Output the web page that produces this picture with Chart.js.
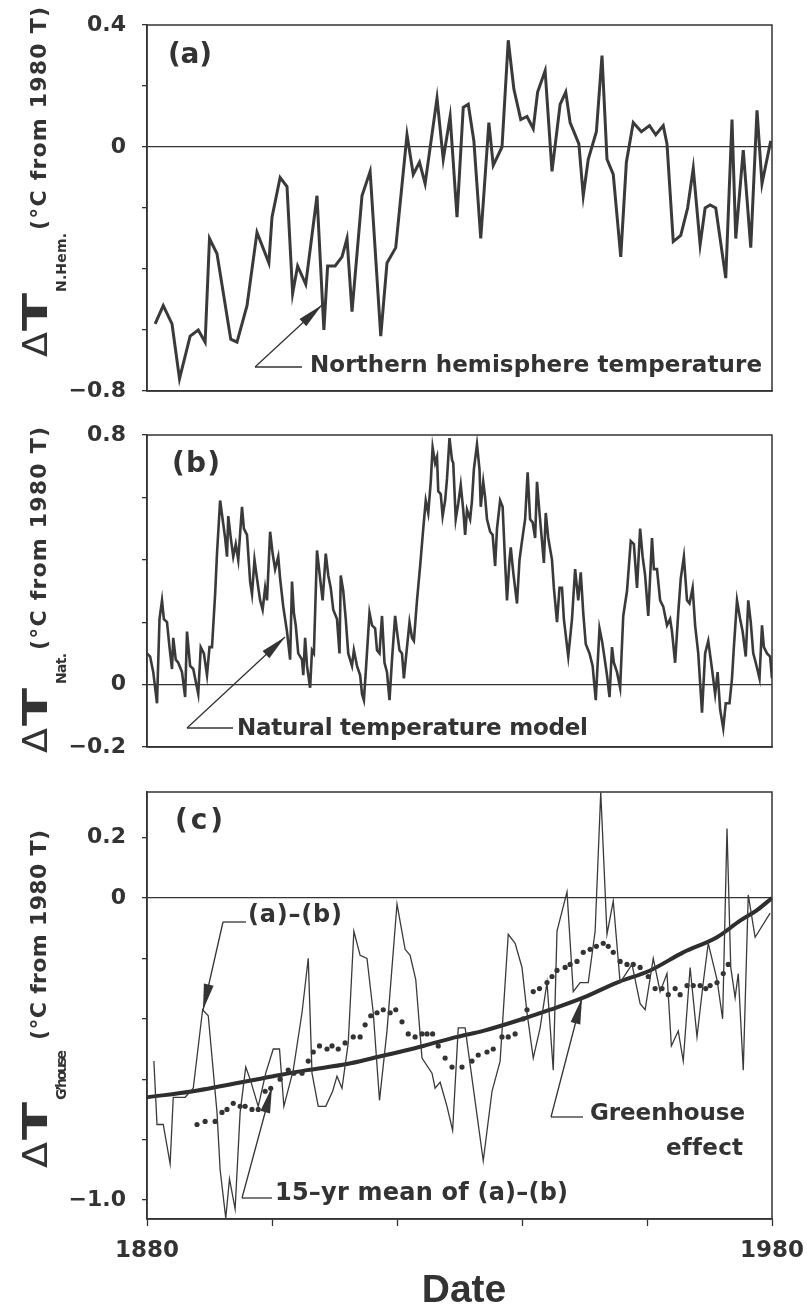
<!DOCTYPE html>
<html><head><meta charset="utf-8">
<script src="https://cdn.jsdelivr.net/npm/chart.js@4.4.0/dist/chart.umd.min.js"></script>
<style>
html,body{margin:0;padding:0;background:#fff;}
body{width:807px;height:1312px;position:relative;overflow:hidden;}
canvas{position:absolute;left:0;}
</style></head><body>
<canvas id="ca" width="807" height="446" style="top:-15px"></canvas>
<canvas id="cb" width="807" height="392" style="top:395px"></canvas>
<canvas id="cc" width="860" height="560" style="top:752px"></canvas>
<script>
// ---------- DATA ----------
// (a) Northern hemisphere temperature
const yearsA = [1881.3,1882.6,1884.0,1885.2,1886.9,1888.2,1889.3,1890.0,1891.2,1893.4,
1894.4,1896.0,1897.6,1899.5,1900.0,1901.3,1902.4,1903.3,1904.1,1905.4,
1907.2,1908.3,1908.9,1910.1,1911.2,1912.0,1912.8,1914.4,1915.7,1917.4,
1918.4,1919.8,1921.6,1922.6,1923.6,1924.5,1926.4,1927.4,1928.5,1929.6,
1930.6,1931.4,1932.3,1933.4,1934.7,1935.4,1936.8,1937.8,1938.7,1939.8,
1940.8,1941.8,1942.5,1943.7,1944.8,1946.1,1947.0,1947.7,1949.1,1949.8,
1950.6,1951.9,1952.8,1953.6,1954.6,1955.8,1956.7,1957.8,1959.1,1960.4,
1961.4,1962.6,1963.2,1964.2,1965.4,1966.5,1967.4,1968.5,1969.3,1970.1,
1971.0,1972.6,1973.6,1974.2,1975.4,1976.6,1977.6,1978.4,1979.8];
const valuesA = [-0.58,-0.52,-0.58,-0.76,-0.62,-0.60,-0.64,-0.30,-0.35,-0.63,
-0.64,-0.52,-0.28,-0.38,-0.23,-0.10,-0.13,-0.48,-0.39,-0.45,
-0.16,-0.60,-0.39,-0.39,-0.36,-0.30,-0.54,-0.16,-0.08,-0.62,
-0.38,-0.33,0.04,-0.09,-0.05,-0.12,0.16,-0.04,0.10,-0.23,
0.13,0.14,0.02,-0.30,0.08,-0.06,0.00,0.35,0.19,0.09,
0.10,0.06,0.18,0.25,-0.08,0.14,0.18,0.08,0.01,-0.16,
-0.04,0.05,0.30,-0.04,-0.09,-0.36,-0.05,0.08,0.05,0.07,
0.04,0.07,0.01,-0.31,-0.29,-0.20,-0.07,-0.32,-0.20,-0.19,
-0.20,-0.43,0.09,-0.30,-0.01,-0.33,0.12,-0.12,0.02];

// (b) Natural temperature model
const yearsB = [1880.0,1880.5,1881.0,1881.6,1882.0,1882.4,1882.7,1883.2,1883.6,1884.0,
1884.2,1884.6,1885.0,1885.6,1886.1,1886.4,1886.9,1887.4,1887.8,1888.2,
1888.6,1889.1,1889.6,1890.0,1890.4,1890.9,1891.2,1891.7,1892.1,1892.5,
1892.8,1893.0,1893.4,1893.8,1894.2,1894.6,1895.2,1895.5,1896.0,1896.5,
1896.8,1897.2,1897.6,1898.1,1898.5,1898.9,1899.2,1899.7,1900.1,1900.5,
1901.0,1901.3,1901.8,1902.4,1902.9,1903.2,1903.5,1903.8,1904.2,1904.8,
1905.0,1905.3,1905.6,1906.1,1906.4,1906.7,1907.2,1907.7,1908.1,1908.6,
1909.0,1909.4,1909.8,1910.4,1910.8,1911.0,1911.4,1911.8,1912.2,1912.8,
1913.1,1913.6,1914.1,1914.4,1914.7,1915.0,1915.6,1916.0,1916.5,1916.8,
1917.2,1917.6,1918.0,1918.4,1918.8,1919.2,1919.7,1920.0,1920.4,1920.8,
1921.1,1921.6,1922.0,1922.4,1922.7,1923.2,1923.7,1924.2,1924.6,1925.0,
1925.4,1925.7,1926.1,1926.4,1926.6,1927.0,1927.3,1927.7,1928.0,1928.4,
1928.8,1929.0,1929.4,1929.8,1930.2,1930.6,1930.9,1931.2,1931.7,1932.0,
1932.3,1932.8,1933.2,1933.4,1933.8,1934.1,1934.4,1934.9,1935.3,1935.7,
1936.0,1936.5,1936.9,1937.3,1937.6,1938.0,1938.2,1938.6,1939.2,1939.6,
1940.0,1940.5,1940.9,1941.3,1941.7,1942.1,1942.4,1942.8,1943.2,1943.5,
1943.8,1944.2,1944.8,1945.1,1945.6,1946.0,1946.4,1946.7,1947.4,1948.0,
1948.5,1949.0,1949.4,1949.8,1950.2,1950.8,1951.3,1951.8,1952.4,1952.8,
1953.1,1953.6,1954.0,1954.4,1954.7,1955.2,1955.7,1956.2,1956.8,1957.4,
1957.9,1958.4,1958.9,1959.3,1959.7,1960.2,1960.8,1961.1,1961.6,1962.1,
1962.6,1963.2,1963.7,1964.0,1964.5,1965.0,1965.4,1965.9,1966.4,1966.8,
1967.3,1967.7,1968.2,1968.8,1969.3,1969.8,1970.4,1970.9,1971.3,1971.7,
1972.2,1972.6,1973.2,1973.6,1973.9,1974.4,1974.9,1975.3,1975.8,1976.2,
1976.6,1977.0,1977.4,1978.0,1978.4,1978.7,1979.2,1979.7,1980.0];
const valuesB = [0.10,0.09,0.04,-0.06,0.21,0.27,0.21,0.20,0.12,0.05,
0.15,0.08,0.07,0.04,-0.04,0.17,0.06,0.05,0.01,-0.03,
0.12,0.10,0.03,0.12,0.12,0.29,0.42,0.59,0.53,0.47,
0.41,0.54,0.47,0.41,0.45,0.40,0.57,0.50,0.48,0.33,
0.29,0.40,0.34,0.27,0.24,0.31,0.27,0.49,0.42,0.37,
0.41,0.34,0.25,0.17,0.08,0.33,0.23,0.19,0.10,0.08,
0.03,0.15,0.06,-0.01,0.11,0.10,0.43,0.34,0.27,0.42,
0.35,0.31,0.24,0.21,0.10,0.35,0.30,0.21,0.10,0.06,
0.11,0.06,0.03,-0.03,-0.05,0.04,0.23,0.19,0.18,0.11,
0.10,0.22,0.07,0.04,-0.05,0.08,0.22,0.17,0.11,0.10,
0.02,0.12,0.20,0.15,0.14,0.27,0.38,0.50,0.59,0.55,
0.65,0.76,0.71,0.73,0.62,0.61,0.54,0.59,0.66,0.79,
0.72,0.71,0.53,0.58,0.64,0.56,0.48,0.56,0.53,0.59,
0.69,0.77,0.69,0.57,0.65,0.60,0.53,0.49,0.48,0.38,
0.50,0.59,0.57,0.39,0.27,0.40,0.44,0.36,0.26,0.40,
0.46,0.53,0.68,0.53,0.52,0.47,0.65,0.55,0.46,0.39,
0.55,0.47,0.40,0.31,0.20,0.31,0.31,0.21,0.09,0.21,
0.37,0.27,0.36,0.23,0.13,0.10,0.06,-0.05,0.18,0.14,
0.10,0.03,-0.04,0.12,0.07,0.04,-0.01,0.22,0.30,0.46,
0.45,0.31,0.50,0.41,0.35,0.22,0.47,0.37,0.37,0.27,
0.25,0.19,0.21,0.17,0.07,0.23,0.34,0.41,0.27,0.26,
0.31,0.19,0.10,-0.09,0.10,0.14,0.05,-0.03,0.04,-0.08,
-0.14,-0.06,-0.06,0.02,0.12,0.27,0.21,0.17,0.09,0.27,
0.20,0.10,0.07,0.02,0.19,0.12,0.10,0.09,0.02];

// (c) (a)-(b)
const yearsDiff = [1881.1,1881.6,1882.6,1883.7,1884.2,1886.1,1887.4,1888.9,1889.8,1891.2,
1891.7,1892.6,1893.2,1894.1,1894.9,1895.8,1896.5,1897.8,1899.0,1900.2,
1901.2,1901.9,1903.4,1904.8,1905.8,1906.4,1907.4,1908.6,1909.7,1910.4,
1911.2,1912.2,1913.1,1914.1,1915.2,1916.2,1917.2,1918.4,1920.0,1921.3,
1922.1,1923.0,1924.0,1925.6,1926.1,1926.9,1928.0,1928.9,1929.8,1930.9,
1933.8,1935.2,1936.5,1937.8,1938.9,1940.0,1940.8,1941.8,1942.9,1944.0,
1945.0,1945.6,1947.2,1948.2,1949.3,1950.6,1951.7,1952.6,1953.6,1954.6,
1955.7,1957.6,1958.9,1959.7,1961.0,1962.1,1963.2,1963.9,1965.0,1965.8,
1966.9,1968.0,1969.0,1969.8,1971.2,1972.1,1972.8,1973.4,1974.1,1974.6,
1975.4,1976.2,1977.3,1979.7];
const valuesDiff = [-0.54,-0.75,-0.75,-0.88,-0.66,-0.66,-0.63,-0.37,-0.39,-0.71,
-0.90,-1.06,-0.93,-1.03,-0.71,-0.56,-0.60,-0.69,-0.58,-0.50,
-0.50,-0.69,-0.57,-0.38,-0.20,-0.58,-0.69,-0.69,-0.64,-0.59,
-0.63,-0.48,-0.11,-0.19,-0.20,-0.38,-0.67,-0.44,-0.02,-0.17,
-0.19,-0.27,-0.53,-0.58,-0.63,-0.61,-0.69,-0.77,-0.43,-0.43,
-0.87,-0.64,-0.54,-0.12,-0.15,-0.23,-0.38,-0.53,-0.43,-0.28,
-0.57,-0.11,0.02,-0.31,-0.28,-0.28,-0.11,0.35,-0.12,-0.01,
-0.28,-0.22,-0.35,-0.37,-0.20,-0.31,-0.25,-0.49,-0.44,-0.54,
-0.23,-0.46,-0.28,-0.15,-0.27,-0.40,0.23,-0.23,-0.33,-0.25,
-0.57,0.01,-0.13,-0.05];

// (c) 15-yr mean of (a)-(b)
const yearsMean = [1888.0,1889.3,1890.9,1892.0,1892.8,1893.8,1894.9,1895.7,1896.8,1897.8,
1898.9,1899.8,1901.3,1902.6,1903.5,1904.8,1905.8,1906.6,1907.6,1908.8,
1909.6,1910.6,1911.7,1913.0,1914.1,1914.9,1915.8,1916.8,1917.8,1918.9,
1919.8,1920.8,1921.8,1922.9,1924.0,1924.8,1925.7,1926.6,1927.7,1928.8,
1930.4,1932.0,1933.0,1934.4,1935.4,1936.8,1937.8,1938.9,1940.2,1940.8,
1941.8,1942.8,1944.0,1944.8,1945.6,1946.9,1947.7,1948.8,1949.8,1950.9,
1951.9,1953.0,1953.8,1954.6,1955.7,1956.8,1957.8,1958.9,1960.2,1961.3,
1962.4,1963.4,1964.5,1965.3,1966.4,1967.4,1968.5,1969.4,1970.1,1971.2,
1972.2,1973.0];
const valuesMean = [-0.75,-0.74,-0.74,-0.71,-0.70,-0.68,-0.69,-0.69,-0.70,-0.70,
-0.64,-0.63,-0.60,-0.57,-0.58,-0.58,-0.54,-0.51,-0.49,-0.50,
-0.49,-0.50,-0.48,-0.46,-0.46,-0.42,-0.39,-0.38,-0.37,-0.38,
-0.37,-0.41,-0.45,-0.46,-0.45,-0.45,-0.45,-0.49,-0.53,-0.56,
-0.56,-0.54,-0.52,-0.51,-0.50,-0.46,-0.46,-0.45,-0.40,-0.37,
-0.31,-0.30,-0.28,-0.26,-0.24,-0.23,-0.22,-0.21,-0.18,-0.17,
-0.16,-0.15,-0.16,-0.18,-0.21,-0.22,-0.22,-0.23,-0.26,-0.30,
-0.30,-0.32,-0.30,-0.32,-0.29,-0.29,-0.29,-0.30,-0.29,-0.28,
-0.25,-0.22];

// (c) Greenhouse effect
const yearsGH = [1880.0,1887.4,1900.2,1905.6,1912.0,1916.2,1924.2,1929.6,1933.8,1940.2,
1944.5,1949.8,1955.2,1960.5,1965.8,1971.2,1974.9,1977.6,1980.0];
const valuesGH = [-0.66,-0.64,-0.59,-0.57,-0.55,-0.53,-0.49,-0.46,-0.44,-0.40,
-0.37,-0.33,-0.28,-0.24,-0.18,-0.13,-0.075,-0.04,0.00];

// ticks
const xTicks = [1880,1900,1920,1940,1960,1980];
const xLabelYears = [1880,1980];
const yTicksA = [-0.8,-0.6,-0.4,-0.2,0,0.2,0.4];
const yLabelValsA = [0.4,0,-0.8];
const yLabelTextA = ['0.4','0','\u22120.8'];
const yTicksB = [-0.2,0,0.2,0.4,0.6,0.8];
const yLabelValsB = [0.8,0,-0.2];
const yLabelTextB = ['0.8','0','\u22120.2'];
const yTicksC = [-1.0,-0.8,-0.6,-0.4,-0.2,0,0.2];
const yLabelValsC = [0.2,0,-1.0];
const yLabelTextC = ['0.2','0','\u22121.0'];

// ---------- STYLE / HELPERS ----------
const INK = '#333333';
const FONT = '"DejaVu Sans"';

function pts(xs, ys){ return xs.map((x,i)=>({x:x, y:ys[i]})); }

function yScale(min, max, ticks, lv, lt){
  return {
    type:'linear', min:min, max:max, position:'left',
    afterBuildTicks: s => { s.ticks = ticks.map(v=>({value:v})); },
    afterFit: s => { s.width = 147; },
    ticks:{ autoSkip:false, padding:16, color:INK,
      font:{family:FONT, size:22, weight:'bold'},
      callback: v => { const i = lv.indexOf(v); return i>=0 ? lt[i] : ''; } },
    grid:{ drawOnChartArea:true,
      color: c => (c.tick && c.tick.value===0) ? INK : 'rgba(0,0,0,0)',
      lineWidth:1.3, tickColor:INK, tickLength:5, tickWidth:1.3 },
    border:{display:true, color:INK, width:1.5}
  };
}
function xScale(show, h){
  return {
    type:'linear', min:1880, max:1980,
    afterBuildTicks: s => { s.ticks = xTicks.map(v=>({value:v})); },
    afterFit: s => { s.height = h; },
    ticks:{ display:show, autoSkip:false, maxRotation:0, padding:11, color:INK,
      font:{family:FONT, size:23, weight:'bold'},
      callback: v => xLabelYears.includes(v) ? String(v) : '' },
    grid:{ drawOnChartArea:false, drawTicks:show, tickLength:7, tickColor:INK, tickWidth:1.3 },
    border:{display:true, color:INK, width:1.5}
  };
}
const boxPlugin = { id:'box', afterDatasetsDraw(chart){
  const ctx = chart.ctx, a = chart.chartArea;
  ctx.save(); ctx.strokeStyle = INK; ctx.lineWidth = 1.5;
  ctx.strokeRect(a.left, a.top, a.right-a.left, a.bottom-a.top); ctx.restore(); } };

function spacedText(ctx, text, font, x0, x1, base){
  ctx.font = font; ctx.textBaseline = 'alphabetic'; ctx.textAlign = 'left';
  const ch = Array.from(text); const ws = ch.map(c=>ctx.measureText(c).width);
  const tot = ws.reduce((a,b)=>a+b,0);
  const gap = ch.length>1 ? ((x1-x0)-tot)/(ch.length-1) : 0;
  let x = x0; ch.forEach((c,i)=>{ ctx.fillText(c, x, base); x += ws[i]+gap; });
}
function spacedRot(ctx, text, font, bx, y0, y1){
  ctx.save(); ctx.translate(bx, y0); ctx.rotate(-Math.PI/2);
  spacedText(ctx, text, font, 0, y0-y1, 0); ctx.restore();
}
function scaledRot(ctx, text, font, bx, y0, y1){
  ctx.save(); ctx.translate(bx, y0); ctx.rotate(-Math.PI/2);
  ctx.font = font; ctx.textBaseline='alphabetic'; ctx.textAlign='left';
  const w = ctx.measureText(text).width; ctx.scale((y0-y1)/w, 1);
  ctx.fillText(text, 0, 0); ctx.restore();
}
function yTitle(ctx, d, t, sub, s, p){
  scaledRot(ctx, '\u0394', '34px '+FONT, 47, d[0], d[1]);
  scaledRot(ctx, 'T', 'bold 34px '+FONT, 47, t[0], t[1]);
  spacedRot(ctx, sub, 'bold 14px '+FONT, 66, s[0], s[1]);
  spacedRot(ctx, '(\u00B0C from 1980 T)', 'bold 22px '+FONT, 46, p[0], p[1]);
}
function arrow(ctx, x0, y0, x1, y1){
  ctx.beginPath(); ctx.moveTo(x0,y0); ctx.lineTo(x1,y1); ctx.stroke();
  const a = Math.atan2(y1-y0, x1-x0), L = 26, W = 5;
  const bx = x1-L*Math.cos(a), by = y1-L*Math.sin(a);
  const px = -Math.sin(a)*W, py = Math.cos(a)*W;
  ctx.beginPath(); ctx.moveTo(x1,y1); ctx.lineTo(bx+px,by+py); ctx.lineTo(bx-px,by-py); ctx.closePath(); ctx.fill();
}
function line(ctx, x0, y0, x1, y1){ ctx.beginPath(); ctx.moveTo(x0,y0); ctx.lineTo(x1,y1); ctx.stroke(); }
function notes(offset, fn){ return { id:'notes', afterDraw(chart){
  const ctx = chart.ctx; ctx.save(); ctx.translate(0,-offset);
  ctx.fillStyle = INK; ctx.strokeStyle = INK; ctx.lineWidth = 1.3; fn(ctx); ctx.restore(); } }; }

const common = { responsive:false, animation:false, events:[],
  plugins:{ legend:{display:false}, tooltip:{enabled:false} } };

function lineDs(data, w){ return { data:data, borderColor:'#3a3a3a', borderWidth:w, pointRadius:0,
  tension:0, fill:false, borderJoinStyle:'miter' }; }

// ---------- CHART A ----------
new Chart(document.getElementById('ca'), {
  type:'line',
  data:{ datasets:[ lineDs(pts(yearsA, valuesA), 3) ] },
  options:Object.assign({}, common, {
    layout:{ padding:{ top:40, right:35, bottom:40, left:0 } },
    scales:{ x:xScale(false,0), y:yScale(-0.8,0.4,yTicksA,yLabelValsA,yLabelTextA) } }),
  plugins:[ boxPlugin, notes(-15, ctx => {
    spacedText(ctx, '(a)', 'bold 28px '+FONT, 168, 212, 63);
    spacedText(ctx, 'Northern hemisphere temperature', 'bold 23px '+FONT, 310, 762, 372);
    line(ctx, 302, 367, 255, 367); arrow(ctx, 255, 367, 322, 305);
    yTitle(ctx, [357,332], [331,293], 'N.Hem.', [292,233], [230,7]);
  }) ]
});

// ---------- CHART B ----------
new Chart(document.getElementById('cb'), {
  type:'line',
  data:{ datasets:[ lineDs(pts(yearsB, valuesB), 2.6) ] },
  options:Object.assign({}, common, {
    layout:{ padding:{ top:40, right:35, bottom:40, left:0 } },
    scales:{ x:xScale(false,0), y:yScale(-0.2,0.8,yTicksB,yLabelValsB,yLabelTextB) } }),
  plugins:[ boxPlugin, notes(395, ctx => {
    spacedText(ctx, '(b)', 'bold 28px '+FONT, 172, 220, 472);
    spacedText(ctx, 'Natural temperature model', 'bold 23px '+FONT, 237, 588, 735);
    line(ctx, 233, 728, 187, 728); arrow(ctx, 187, 728, 285, 637);
    yTitle(ctx, [753,728], [726,688], 'Nat.', [684,653], [650,427]);
  }) ]
});

// ---------- CHART C ----------
new Chart(document.getElementById('cc'), {
  type:'line',
  data:{ datasets:[
    { data:pts(yearsDiff, valuesDiff), borderColor:'#3a3a3a', borderWidth:1.3, pointRadius:0, tension:0, fill:false },
    { data:pts(yearsMean, valuesMean), showLine:false, pointRadius:2.6, pointBorderWidth:0,
      pointBackgroundColor:'#333', borderColor:'#333' },
    { data:pts(yearsGH, valuesGH), borderColor:'#2e2e2e', borderWidth:4, pointRadius:0,
      tension:0.4, cubicInterpolationMode:'monotone', fill:false }
  ] },
  options:Object.assign({}, common, {
    layout:{ padding:{ top:40, right:88, bottom:0, left:0 } },
    scales:{ x:xScale(true,93), y:yScale(-1.063,0.351,yTicksC,yLabelValsC,yLabelTextC) } }),
  plugins:[ boxPlugin, notes(752, ctx => {
    spacedText(ctx, '(c)', 'bold 28px '+FONT, 175, 223, 829);
    spacedText(ctx, '(a)\u2013(b)', 'bold 24px '+FONT, 248, 342, 922);
    line(ctx, 246, 922, 223, 922); arrow(ctx, 223, 922, 203, 1010);
    spacedText(ctx, '15\u2013yr mean of (a)\u2013(b)', 'bold 24px '+FONT, 275, 568, 1200);
    line(ctx, 272, 1198, 242, 1198); arrow(ctx, 242, 1198, 272, 1087);
    spacedText(ctx, 'Greenhouse', 'bold 23px '+FONT, 590, 745, 1120);
    spacedText(ctx, 'effect', 'bold 23px '+FONT, 666, 743, 1155);
    line(ctx, 583, 1117, 551, 1117); arrow(ctx, 551, 1117, 582, 998);
    yTitle(ctx, [1168,1142], [1140,1102], 'G\u2019house', [1100,1050], [1040,830]);
    ctx.font = 'bold 39px "Liberation Sans"'; ctx.textAlign = 'center'; ctx.textBaseline = 'alphabetic';
    ctx.fillText('Date', 464, 1302);
  }) ]
});
</script>
</body></html>
